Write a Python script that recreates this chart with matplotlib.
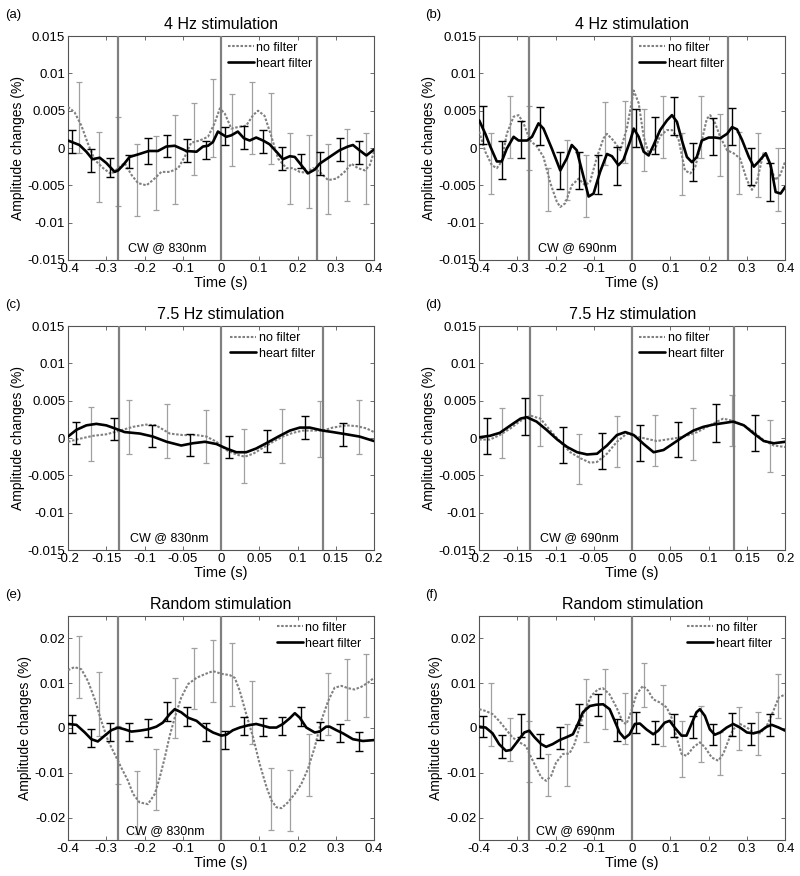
import matplotlib
matplotlib.use("Agg")
import matplotlib.pyplot as plt

plt.rcParams['font.family'] = ['Liberation Sans', 'DejaVu Sans']
plt.rcParams['axes.unicode_minus'] = False

# ---- (a) 4 Hz, 830nm ----
a_hf_t = [-0.4, -0.37, -0.352, -0.336, -0.317, -0.3, -0.278, -0.269, -0.256, -0.239, -0.213, -0.189, -0.165, -0.143, -0.121, -0.099, -0.091, -0.064, -0.047, -0.034, -0.021, -0.008, 0.001, 0.014, 0.027, 0.044, 0.06, 0.075, 0.092, 0.11, 0.127, 0.145, 0.162, 0.18, 0.193, 0.21, 0.227, 0.245, 0.258, 0.284, 0.31, 0.332, 0.345, 0.362, 0.38, 0.4]
a_hf_y = [0.001, 0.0004, -0.0005, -0.0015, -0.0013, -0.002, -0.0032, -0.003, -0.0023, -0.0012, -0.0008, -0.0004, -0.0004, 0.0002, 0.0003, -0.0002, -0.0004, -0.0005, 0.0002, 0.0003, 0.0008, 0.0022, 0.0019, 0.0015, 0.0017, 0.0022, 0.0013, 0.001, 0.0014, 0.001, 0.0005, -0.0005, -0.0015, -0.0011, -0.0012, -0.0023, -0.0034, -0.0029, -0.0021, -0.0012, -0.0003, 0.0002, 0.0004, -0.0003, -0.001, -0.0002]
a_nf_t = [-0.4, -0.383, -0.365, -0.348, -0.33, -0.308, -0.287, -0.269, -0.252, -0.234, -0.217, -0.195, -0.178, -0.156, -0.134, -0.112, -0.095, -0.078, -0.056, -0.034, -0.017, -0.003, 0.01, 0.027, 0.044, 0.066, 0.084, 0.097, 0.114, 0.132, 0.149, 0.171, 0.188, 0.206, 0.223, 0.24, 0.258, 0.28, 0.302, 0.323, 0.341, 0.358, 0.376, 0.389, 0.4]
a_nf_y = [0.0055, 0.0048, 0.003, 0.0006, -0.0016, -0.0027, -0.0035, -0.0027, -0.002, -0.0036, -0.0047, -0.005, -0.0043, -0.0032, -0.0032, -0.0027, -0.0012, 0.0007, 0.001, 0.0015, 0.0033, 0.0053, 0.0046, 0.0026, 0.0028, 0.003, 0.0044, 0.005, 0.0043, 0.0015, -0.0014, -0.0027, -0.0027, -0.0032, -0.0033, -0.0027, -0.0032, -0.0043, -0.0041, -0.0032, -0.0021, -0.0027, -0.003, -0.0023, -0.0005]
a_hf_bt = [-0.39, -0.34, -0.29, -0.24, -0.19, -0.14, -0.09, -0.04, 0.01, 0.06, 0.11, 0.16, 0.21, 0.26, 0.31, 0.36]
a_hf_hi = [0.0024, -0.0001, -0.0014, -0.0009, 0.0013, 0.0017, 0.0012, 0.001, 0.0028, 0.003, 0.0024, 0.0002, -0.0008, -0.0005, 0.0014, 0.001]
a_hf_lo = [-0.0007, -0.0032, -0.0039, -0.0027, -0.0021, -0.0012, -0.0019, -0.0015, 0.0004, -0.0002, -0.0007, -0.003, -0.0027, -0.0036, -0.0018, -0.0021]
a_nf_bt = [-0.37, -0.32, -0.27, -0.22, -0.17, -0.12, -0.07, -0.02, 0.03, 0.08, 0.13, 0.18, 0.23, 0.28, 0.33, 0.38]
a_nf_hi = [0.0088, 0.0022, 0.0042, 0.0005, 0.0016, 0.0044, 0.006, 0.0092, 0.0072, 0.0089, 0.0073, 0.002, 0.0017, 0.0005, 0.0025, 0.002]
a_nf_lo = [-0.0007, -0.0072, -0.0078, -0.0091, -0.0083, -0.0075, -0.0036, -0.0012, -0.0024, -0.0008, -0.0022, -0.0075, -0.008, -0.0089, -0.0071, -0.0075]

# ---- (b) 4 Hz, 690nm ----
b_hf_t = [-0.4, -0.384, -0.371, -0.354, -0.341, -0.328, -0.31, -0.297, -0.275, -0.262, -0.245, -0.232, -0.21, -0.188, -0.171, -0.158, -0.145, -0.127, -0.114, -0.101, -0.084, -0.066, -0.053, -0.036, -0.023, -0.005, 0.004, 0.017, 0.03, 0.043, 0.056, 0.073, 0.091, 0.104, 0.117, 0.13, 0.143, 0.156, 0.169, 0.182, 0.2, 0.217, 0.23, 0.248, 0.261, 0.274, 0.287, 0.305, 0.318, 0.331, 0.349, 0.362, 0.375, 0.388, 0.4]
b_hf_y = [0.0037, 0.0019, 0.0002, -0.0018, -0.0018, -0.0001, 0.0015, 0.001, 0.001, 0.0015, 0.0033, 0.0026, -0.0001, -0.003, -0.0014, 0.0004, -0.0003, -0.0039, -0.0065, -0.0061, -0.0032, -0.0008, -0.0011, -0.0023, -0.0016, 0.001, 0.0026, 0.0015, -0.0005, -0.001, 0.0004, 0.0024, 0.0037, 0.0044, 0.0035, 0.001, -0.0012, -0.0019, -0.0012, 0.001, 0.0014, 0.0014, 0.0013, 0.0019, 0.0028, 0.0025, 0.0011, -0.0012, -0.0025, -0.0018, -0.0007, -0.0023, -0.0059, -0.0061, -0.0052]
b_nf_t = [-0.4, -0.384, -0.367, -0.354, -0.341, -0.328, -0.31, -0.297, -0.284, -0.267, -0.249, -0.232, -0.214, -0.197, -0.188, -0.175, -0.158, -0.14, -0.123, -0.11, -0.092, -0.075, -0.066, -0.049, -0.031, -0.014, 0.004, 0.017, 0.03, 0.043, 0.06, 0.073, 0.091, 0.104, 0.121, 0.138, 0.152, 0.165, 0.182, 0.195, 0.204, 0.217, 0.23, 0.248, 0.265, 0.282, 0.3, 0.313, 0.326, 0.343, 0.356, 0.374, 0.387, 0.4]
b_nf_y = [0.0022, -0.0005, -0.0023, -0.0027, -0.0018, 0.0019, 0.0042, 0.0044, 0.0033, 0.001, 0.0002, -0.0012, -0.0047, -0.0072, -0.0079, -0.0074, -0.005, -0.0041, -0.005, -0.0045, -0.0012, 0.0013, 0.0019, 0.001, -0.0003, 0.0026, 0.0077, 0.006, 0.0015, -0.0007, -0.0001, 0.0016, 0.0024, 0.0024, 0.0012, -0.003, -0.0034, -0.0025, 0.001, 0.0039, 0.0044, 0.0033, 0.0015, -0.0003, -0.0007, -0.0014, -0.0043, -0.0056, -0.0045, -0.0007, -0.0016, -0.0043, -0.0036, -0.0018]
b_hf_bt = [-0.39, -0.34, -0.29, -0.24, -0.19, -0.14, -0.09, -0.04, 0.01, 0.06, 0.11, 0.16, 0.21, 0.26, 0.31, 0.36]
b_hf_hi = [0.0056, 0.0009, 0.0036, 0.0055, -0.0005, -0.0005, -0.0009, 0.0002, 0.0052, 0.0042, 0.0068, 0.0007, 0.004, 0.0054, 0.0, -0.002]
b_hf_lo = [0.0006, -0.0041, -0.0014, 0.0004, -0.0055, -0.0055, -0.0061, -0.005, 0.0002, -0.0008, 0.0017, -0.0044, -0.0009, 0.0004, -0.005, -0.0071]
b_nf_bt = [-0.37, -0.32, -0.27, -0.22, -0.17, -0.12, -0.07, -0.02, 0.03, 0.08, 0.13, 0.18, 0.23, 0.28, 0.33, 0.38]
b_nf_hi = [0.002, 0.007, 0.0056, -0.0027, 0.0011, -0.0009, 0.0061, 0.0063, 0.0052, 0.007, 0.002, 0.007, 0.0045, 0.0022, 0.002, 0.0]
b_nf_lo = [-0.0062, -0.0013, -0.003, -0.0085, -0.007, -0.0092, -0.0023, -0.002, -0.0031, -0.0014, -0.0063, -0.0014, -0.0038, -0.0062, -0.0065, -0.0084]

# ---- (c) 7.5 Hz, 830nm ----
c_hf_t = [-0.2, -0.189, -0.176, -0.163, -0.15, -0.139, -0.126, -0.106, -0.089, -0.071, -0.052, -0.037, -0.021, -0.006, 0.007, 0.02, 0.033, 0.046, 0.059, 0.075, 0.09, 0.103, 0.116, 0.133, 0.146, 0.164, 0.181, 0.2]
c_hf_y = [0.0002, 0.0011, 0.0017, 0.0019, 0.0017, 0.0013, 0.0008, 0.0006, 0.0002, -0.0005, -0.001, -0.0007, -0.0005, -0.0008, -0.0014, -0.0019, -0.0019, -0.0014, -0.0007, 0.0002, 0.001, 0.0014, 0.0014, 0.001, 0.0008, 0.0005, 0.0002, -0.0004]
c_nf_t = [-0.2, -0.185, -0.167, -0.15, -0.132, -0.115, -0.098, -0.085, -0.067, -0.05, -0.032, -0.019, -0.006, 0.007, 0.02, 0.031, 0.042, 0.055, 0.068, 0.081, 0.094, 0.107, 0.12, 0.133, 0.146, 0.164, 0.177, 0.19, 0.2]
c_nf_y = [-0.0005, -0.0001, 0.0003, 0.0005, 0.001, 0.0015, 0.0018, 0.0017, 0.0006, 0.0004, 0.0004, 0.0002, -0.0005, -0.0016, -0.0022, -0.0025, -0.0021, -0.0013, -0.0005, 0.0002, 0.0007, 0.001, 0.001, 0.001, 0.0014, 0.0017, 0.0016, 0.0013, 0.0008]
c_hf_bt = [-0.19, -0.14, -0.09, -0.04, 0.01, 0.06, 0.11, 0.16]
c_hf_hi = [0.0022, 0.0027, 0.0018, 0.0006, 0.0003, 0.0011, 0.0029, 0.002]
c_hf_lo = [-0.0008, -0.0003, -0.0012, -0.0024, -0.0027, -0.0019, -0.0001, -0.001]
c_nf_bt = [-0.17, -0.12, -0.07, -0.02, 0.03, 0.08, 0.13, 0.18]
c_nf_hi = [0.0042, 0.0051, 0.0046, 0.0038, 0.0012, 0.0039, 0.0049, 0.0051]
c_nf_lo = [-0.0031, -0.0022, -0.0027, -0.0034, -0.006, -0.0034, -0.0025, -0.0022]

# ---- (d) 7.5 Hz, 690nm ----
d_hf_t = [-0.2, -0.186, -0.173, -0.159, -0.146, -0.138, -0.125, -0.112, -0.098, -0.085, -0.072, -0.059, -0.046, -0.033, -0.02, -0.009, 0.002, 0.015, 0.028, 0.041, 0.054, 0.067, 0.08, 0.093, 0.106, 0.119, 0.132, 0.146, 0.159, 0.172, 0.185, 0.2]
d_hf_y = [0.0001, 0.0003, 0.0007, 0.0017, 0.0026, 0.0028, 0.0022, 0.0011, -0.0002, -0.0012, -0.0019, -0.0022, -0.0021, -0.001, 0.0004, 0.0008, 0.0004, -0.0008, -0.0019, -0.0016, -0.0007, 0.0002, 0.001, 0.0015, 0.0018, 0.002, 0.0022, 0.0017, 0.0006, -0.0004, -0.0007, -0.0005]
d_nf_t = [-0.2, -0.186, -0.173, -0.159, -0.146, -0.133, -0.12, -0.107, -0.094, -0.081, -0.068, -0.055, -0.046, -0.033, -0.02, -0.007, 0.006, 0.019, 0.032, 0.045, 0.058, 0.071, 0.085, 0.098, 0.111, 0.119, 0.132, 0.146, 0.159, 0.172, 0.185, 0.2]
d_nf_y = [-0.0002, -0.0002, 0.0004, 0.0013, 0.0023, 0.003, 0.0026, 0.001, -0.0005, -0.0019, -0.0027, -0.0033, -0.0032, -0.0021, -0.0005, 0.0006, 0.0002, -0.0001, -0.0004, -0.0002, 0.0, 0.0003, 0.0008, 0.0015, 0.0022, 0.0026, 0.0023, 0.0017, 0.0008, -0.0003, -0.001, -0.0012]
d_hf_bt = [-0.19, -0.14, -0.09, -0.04, 0.01, 0.06, 0.11, 0.16]
d_hf_hi = [0.0027, 0.0054, 0.0015, 0.0007, 0.0017, 0.0022, 0.0045, 0.0031]
d_hf_lo = [-0.0022, 0.0004, -0.0034, -0.0042, -0.0031, -0.0026, -0.0005, -0.0018]
d_nf_bt = [-0.17, -0.12, -0.07, -0.02, 0.03, 0.08, 0.13, 0.18]
d_nf_hi = [0.004, 0.0058, 0.0006, 0.0029, 0.0031, 0.004, 0.0057, 0.0024]
d_nf_lo = [-0.0027, -0.001, -0.0062, -0.0039, -0.0038, -0.0029, -0.001, -0.0045]

# ---- (e) random, 830nm ----
e_hf_t = [-0.4, -0.378, -0.356, -0.339, -0.322, -0.304, -0.287, -0.269, -0.252, -0.234, -0.213, -0.191, -0.169, -0.152, -0.134, -0.121, -0.104, -0.086, -0.064, -0.043, -0.021, 0.001, 0.014, 0.031, 0.049, 0.071, 0.092, 0.11, 0.127, 0.145, 0.162, 0.18, 0.193, 0.206, 0.223, 0.245, 0.258, 0.275, 0.284, 0.302, 0.319, 0.345, 0.371, 0.4]
e_hf_y = [0.0009, 0.0007, -0.001, -0.0025, -0.003, -0.0017, -0.0005, 0.0001, -0.0003, -0.0008, -0.0006, -0.0003, 0.0003, 0.0012, 0.0031, 0.0042, 0.0035, 0.0023, 0.0016, 0.0001, -0.001, -0.0017, -0.0015, -0.0005, 0.0001, 0.0006, 0.0009, 0.0005, 0.0001, 0.0001, 0.0009, 0.0022, 0.0033, 0.0023, 0.0001, -0.001, -0.0008, 0.0003, 0.0003, -0.0005, -0.0012, -0.0025, -0.0029, -0.0027]
e_nf_t = [-0.4, -0.383, -0.365, -0.348, -0.33, -0.313, -0.295, -0.278, -0.261, -0.243, -0.23, -0.213, -0.191, -0.173, -0.16, -0.147, -0.134, -0.121, -0.104, -0.086, -0.064, -0.043, -0.021, 0.001, 0.023, 0.036, 0.049, 0.066, 0.084, 0.101, 0.119, 0.132, 0.145, 0.158, 0.175, 0.193, 0.21, 0.227, 0.245, 0.262, 0.28, 0.297, 0.315, 0.332, 0.349, 0.367, 0.384, 0.4]
e_nf_y = [0.0129, 0.0136, 0.0131, 0.0105, 0.0064, 0.0016, -0.0029, -0.0058, -0.0088, -0.0118, -0.0147, -0.0166, -0.017, -0.0147, -0.011, -0.0066, -0.0017, 0.0023, 0.0068, 0.0098, 0.0112, 0.012, 0.0127, 0.0121, 0.0118, 0.0112, 0.0083, 0.0031, -0.0021, -0.008, -0.0132, -0.0162, -0.0177, -0.0179, -0.0166, -0.0147, -0.0125, -0.0092, -0.0043, 0.0016, 0.006, 0.009, 0.0094, 0.0089, 0.0086, 0.0092, 0.0101, 0.0112]
e_hf_bt = [-0.39, -0.34, -0.29, -0.24, -0.19, -0.14, -0.09, -0.04, 0.01, 0.06, 0.11, 0.16, 0.21, 0.26, 0.31, 0.36]
e_hf_hi = [0.0029, -0.0003, 0.0012, 0.0012, 0.002, 0.0058, 0.0046, 0.0011, -0.0006, 0.0025, 0.0023, 0.0025, 0.0047, 0.0014, 0.001, -0.001]
e_hf_lo = [-0.0012, -0.0043, -0.0029, -0.0029, -0.0021, 0.0016, 0.0005, -0.003, -0.0047, -0.0016, -0.0017, -0.0016, 0.0005, -0.0027, -0.0031, -0.0051]
e_nf_bt = [-0.37, -0.32, -0.27, -0.22, -0.17, -0.12, -0.07, -0.02, 0.03, 0.08, 0.13, 0.18, 0.23, 0.28, 0.33, 0.38]
e_nf_hi = [0.0205, 0.0124, 0.0005, -0.0097, -0.0047, 0.0112, 0.0179, 0.0196, 0.019, 0.0105, -0.009, -0.0094, -0.0014, 0.0122, 0.0155, 0.0166]
e_nf_lo = [0.0068, -0.0017, -0.0125, -0.0236, -0.0184, -0.0023, 0.0042, 0.0059, 0.0049, -0.0036, -0.0227, -0.0229, -0.0151, -0.0016, 0.0017, 0.0025]

# ---- (f) random, 690nm ----
f_hf_t = [-0.4, -0.383, -0.365, -0.348, -0.33, -0.317, -0.299, -0.282, -0.269, -0.256, -0.238, -0.225, -0.208, -0.19, -0.173, -0.155, -0.142, -0.129, -0.111, -0.094, -0.076, -0.059, -0.046, -0.033, -0.02, -0.007, 0.007, 0.02, 0.037, 0.055, 0.068, 0.085, 0.098, 0.111, 0.129, 0.142, 0.155, 0.168, 0.177, 0.19, 0.203, 0.216, 0.23, 0.247, 0.264, 0.282, 0.3, 0.317, 0.334, 0.352, 0.365, 0.383, 0.4]
f_hf_y = [0.0003, 0.0001, -0.0012, -0.0036, -0.0051, -0.0049, -0.0029, -0.001, -0.0006, -0.002, -0.0036, -0.0042, -0.0036, -0.0027, -0.0021, -0.0014, 0.0009, 0.0035, 0.0049, 0.0052, 0.0053, 0.0042, 0.0016, -0.001, -0.0023, -0.0014, 0.0009, 0.001, -0.0003, -0.0014, -0.0006, 0.0012, 0.0016, 0.0001, -0.0017, -0.0017, 0.0009, 0.0035, 0.0042, 0.0027, -0.0003, -0.0015, -0.001, 0.0001, 0.0009, 0.0001, -0.001, -0.0012, -0.0008, 0.0003, 0.0007, 0.0001, -0.0006]
f_nf_t = [-0.4, -0.383, -0.365, -0.348, -0.33, -0.313, -0.295, -0.278, -0.264, -0.251, -0.238, -0.225, -0.212, -0.199, -0.181, -0.164, -0.151, -0.138, -0.125, -0.107, -0.09, -0.077, -0.059, -0.041, -0.024, -0.015, -0.002, 0.011, 0.028, 0.042, 0.055, 0.072, 0.09, 0.103, 0.116, 0.129, 0.142, 0.16, 0.177, 0.19, 0.208, 0.225, 0.238, 0.251, 0.264, 0.282, 0.3, 0.317, 0.334, 0.352, 0.369, 0.383, 0.4]
f_nf_y = [0.0042, 0.0038, 0.0031, 0.0016, -0.0003, -0.0021, -0.0032, -0.004, -0.0066, -0.0088, -0.011, -0.0118, -0.0107, -0.0077, -0.0058, -0.0057, -0.0036, 0.0001, 0.0038, 0.0072, 0.0086, 0.0089, 0.0075, 0.0046, 0.0012, 0.0009, 0.0038, 0.0075, 0.0094, 0.0083, 0.0064, 0.0057, 0.0046, 0.0023, -0.0021, -0.0058, -0.0062, -0.0043, -0.0032, -0.0043, -0.0066, -0.0073, -0.0058, -0.0029, -0.0003, 0.0009, 0.0001, -0.001, -0.0012, 0.0005, 0.0038, 0.0068, 0.0075]
f_hf_bt = [-0.39, -0.34, -0.29, -0.24, -0.19, -0.14, -0.09, -0.04, 0.01, 0.06, 0.11, 0.16, 0.21, 0.26, 0.31, 0.36]
f_hf_hi = [0.0027, -0.0015, 0.0031, -0.0014, 0.0003, 0.0053, 0.0077, 0.0021, 0.0036, 0.0016, 0.0031, 0.0027, 0.0009, 0.0033, 0.0012, 0.0032]
f_hf_lo = [-0.0021, -0.0066, -0.0021, -0.0066, -0.0047, 0.0007, 0.0027, -0.0029, -0.0012, -0.0035, -0.002, -0.0023, -0.0038, -0.0017, -0.0037, -0.0017]
f_nf_bt = [-0.37, -0.32, -0.27, -0.22, -0.17, -0.12, -0.07, -0.02, 0.03, 0.08, 0.13, 0.18, 0.23, 0.28, 0.33, 0.38]
f_nf_hi = [0.0101, 0.0023, 0.0016, -0.0057, 0.0009, 0.0109, 0.0131, 0.0079, 0.0144, 0.0096, 0.0016, 0.0048, -0.001, 0.0047, 0.0036, 0.0121]
f_nf_lo = [-0.004, -0.0073, -0.0121, -0.0151, -0.0129, -0.0032, -0.0003, -0.0036, 0.0046, -0.004, -0.011, -0.0077, -0.0106, -0.0049, -0.006, 0.0023]

marks_4hz = [-0.27, 0, 0.25]
marks_75hz = [-0.1333, 0, 0.1333]
marks_rand = [-0.27, 0]

xt_4hz = [-0.4, -0.3, -0.2, -0.1, 0, 0.1, 0.2, 0.3, 0.4]
xt_75hz = [-0.2, -0.15, -0.1, -0.05, 0, 0.05, 0.1, 0.15, 0.2]
yt_small = [-0.015, -0.01, -0.005, 0, 0.005, 0.01, 0.015]
yt_big = [-0.02, -0.01, 0, 0.01, 0.02]

GRAY = '#808080'
BAR_GRAY = '#a0a0a0'


def panel(ax, title, nf_t, nf_y, hf_t, hf_y, nf_bt, nf_hi, nf_lo, hf_bt, hf_hi, hf_lo,
          marks, xlim, xticks, ylim, yticks, cw_x, cw_y, cw_text, leg_x):
    nf_c = [(h + l) / 2 for h, l in zip(nf_hi, nf_lo)]
    nf_e = [(h - l) / 2 for h, l in zip(nf_hi, nf_lo)]
    hf_c = [(h + l) / 2 for h, l in zip(hf_hi, hf_lo)]
    hf_e = [(h - l) / 2 for h, l in zip(hf_hi, hf_lo)]
    ax.errorbar(nf_bt, nf_c, yerr=nf_e, fmt='none', ecolor=BAR_GRAY, elinewidth=0.9, capsize=2.3, capthick=0.9, zorder=2)
    ax.errorbar(hf_bt, hf_c, yerr=hf_e, fmt='none', ecolor='black', elinewidth=1.0, capsize=2.6, capthick=1.0, zorder=4)
    ax.plot(nf_t, nf_y, color=GRAY, lw=1.5, linestyle=(0, (1.2, 0.8)), label='no filter', zorder=3)
    for m in marks:
        ax.axvline(m, color=GRAY, lw=1.6, zorder=3.5)
    ax.plot(hf_t, hf_y, color='black', lw=1.9, label='heart filter', zorder=5,
            solid_joinstyle='round', solid_capstyle='round')
    ax.set_xlim(xlim)
    ax.set_ylim(ylim)
    ax.set_xticks(xticks)
    ax.set_xticklabels([f'{v:g}' for v in xticks])
    ax.set_yticks(yticks)
    ax.set_yticklabels([f'{v:g}' for v in yticks])
    ax.tick_params(direction='in', top=True, right=True, length=3, width=0.6, labelsize=9.5, pad=2, color='#555555')
    for s in ax.spines.values():
        s.set_color('#555555')
        s.set_linewidth(0.8)
    ax.set_title(title, fontsize=11.5, pad=5)
    ax.set_xlabel('Time (s)', fontsize=10.5, labelpad=1)
    ax.set_ylabel('Amplitude changes (%)', fontsize=10, labelpad=2)
    ax.text(cw_x, cw_y, cw_text, fontsize=9, va='center', ha='left')
    ax.legend(loc='upper right', bbox_to_anchor=(leg_x, 0.985), frameon=False, fontsize=9,
              handlelength=2.1, handletextpad=0.2, labelspacing=0.3, borderpad=0.2, borderaxespad=0)


fig = plt.figure(figsize=(8, 8.76), dpi=100)
W = 0.3825
H = 0.2557
xl = [0.085, 0.599]
yb = [0.7032, 0.3721, 0.0411]

ax_a = fig.add_axes([xl[0], yb[0], W, H])
panel(ax_a, '4 Hz stimulation', a_nf_t, a_nf_y, a_hf_t, a_hf_y, a_nf_bt, a_nf_hi, a_nf_lo,
      a_hf_bt, a_hf_hi, a_hf_lo, marks_4hz, (-0.4, 0.4), xt_4hz, (-0.015, 0.015), yt_small,
      -0.243, -0.0134, 'CW @ 830nm', 0.808)
ax_b = fig.add_axes([xl[1], yb[0], W, H])
panel(ax_b, '4 Hz stimulation', b_nf_t, b_nf_y, b_hf_t, b_hf_y, b_nf_bt, b_nf_hi, b_nf_lo,
      b_hf_bt, b_hf_hi, b_hf_lo, marks_4hz, (-0.4, 0.4), xt_4hz, (-0.015, 0.015), yt_small,
      -0.245, -0.0134, 'CW @ 690nm', 0.808)
ax_c = fig.add_axes([xl[0], yb[1], W, H])
panel(ax_c, '7.5 Hz stimulation', c_nf_t, c_nf_y, c_hf_t, c_hf_y, c_nf_bt, c_nf_hi, c_nf_lo,
      c_hf_bt, c_hf_hi, c_hf_lo, marks_75hz, (-0.2, 0.2), xt_75hz, (-0.015, 0.015), yt_small,
      -0.119, -0.0134, 'CW @ 830nm', 0.815)
ax_d = fig.add_axes([xl[1], yb[1], W, H])
panel(ax_d, '7.5 Hz stimulation', d_nf_t, d_nf_y, d_hf_t, d_hf_y, d_nf_bt, d_nf_hi, d_nf_lo,
      d_hf_bt, d_hf_hi, d_hf_lo, marks_75hz, (-0.2, 0.2), xt_75hz, (-0.015, 0.015), yt_small,
      -0.12, -0.0134, 'CW @ 690nm', 0.808)
ax_e = fig.add_axes([xl[0], yb[2], W, H])
panel(ax_e, 'Random stimulation', e_nf_t, e_nf_y, e_hf_t, e_hf_y, e_nf_bt, e_nf_hi, e_nf_lo,
      e_hf_bt, e_hf_hi, e_hf_lo, marks_rand, (-0.4, 0.4), xt_4hz, (-0.025, 0.025), yt_big,
      -0.249, -0.0229, 'CW @ 830nm', 0.968)
ax_f = fig.add_axes([xl[1], yb[2], W, H])
panel(ax_f, 'Random stimulation', f_nf_t, f_nf_y, f_hf_t, f_hf_y, f_nf_bt, f_nf_hi, f_nf_lo,
      f_hf_bt, f_hf_hi, f_hf_lo, marks_rand, (-0.4, 0.4), xt_4hz, (-0.025, 0.025), yt_big,
      -0.251, -0.0229, 'CW @ 690nm', 0.965)

for lab, x, y in [('(a)', 0.006, 0.983), ('(b)', 0.531, 0.983), ('(c)', 0.006, 0.652),
                  ('(d)', 0.531, 0.652), ('(e)', 0.006, 0.321), ('(f)', 0.531, 0.321)]:
    fig.text(x, y, lab, fontsize=9.5, va='center', ha='left')

fig.savefig('out.png', dpi=100)
